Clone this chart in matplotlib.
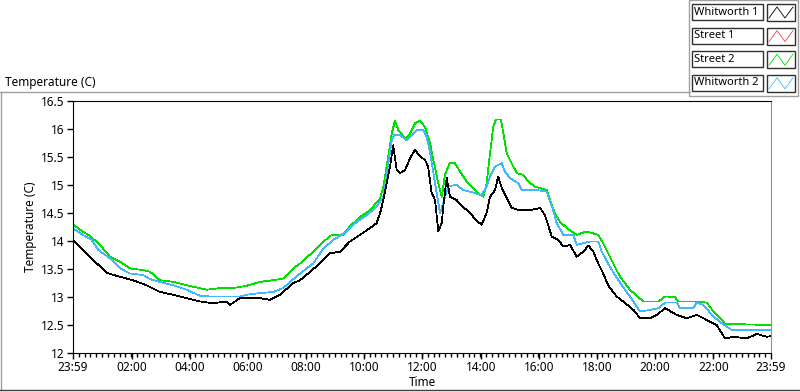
import numpy as np
import matplotlib
matplotlib.use('Agg')
from matplotlib import pyplot as plt
from matplotlib.patches import Rectangle

plt.rcParams['font.family'] = ['Noto Sans', 'DejaVu Sans']

# time is in hours after 23:59 (start of the log)
w1_hours = [0, 0.24, 0.70, 1.16, 1.62, 2.06, 2.53, 2.99, 3.45, 3.91, 4.37, 4.81, 5.28, 5.40, 5.74,
            6.43, 6.77, 7.12, 7.57, 7.81, 8.15, 8.49, 8.84, 9.18, 9.52, 9.87, 10.21, 10.44, 10.56,
            10.67, 10.79, 10.90, 11.01, 11.13, 11.24, 11.42, 11.59, 11.76, 11.93, 12.10, 12.21, 12.33,
            12.45, 12.56, 12.68, 12.73, 12.85, 12.96, 13.19, 13.41, 13.65, 13.88, 14.05, 14.22, 14.34,
            14.51, 14.62, 14.74, 14.91, 15.08, 15.37, 15.71, 16.06, 16.23, 16.46, 16.69, 16.86, 17.09,
            17.32, 17.55, 17.72, 17.89, 18.06, 18.23, 18.40, 18.69, 18.92, 19.27, 19.50, 19.84, 20.07,
            20.36, 20.76, 21.10, 21.45, 21.79, 22.13, 22.42, 22.70, 23.16, 23.51, 23.85, 24.0]
w1_temp = [14.02, 13.90, 13.66, 13.43, 13.36, 13.30, 13.21, 13.09, 13.04, 12.98, 12.92, 12.89, 12.92, 12.86, 12.98,
           12.98, 12.95, 13.04, 13.25, 13.30, 13.45, 13.60, 13.78, 13.81, 13.99, 14.11, 14.23, 14.32, 14.50,
           14.73, 15.04, 15.33, 15.71, 15.27, 15.21, 15.27, 15.48, 15.63, 15.51, 15.45, 15.33, 14.86,
           14.73, 14.17, 14.32, 14.61, 15.13, 14.79, 14.73, 14.61, 14.50, 14.36, 14.29, 14.50, 14.79,
           14.91, 15.15, 14.95, 14.77, 14.59, 14.55, 14.55, 14.59, 14.46, 14.08, 14.02, 13.90, 13.93,
           13.72, 13.81, 13.92, 13.81, 13.60, 13.42, 13.21, 13.01, 12.92, 12.77, 12.62, 12.62, 12.68,
           12.80, 12.68, 12.62, 12.68, 12.59, 12.50, 12.26, 12.29, 12.26, 12.34, 12.29, 12.30]

s1_hours = []
s1_temp = []

s2_hours = [0, 0.24, 0.58, 0.93, 1.27, 1.62, 1.96, 2.42, 2.65, 2.99, 3.45, 3.91, 4.60, 5.05, 5.51,
            5.97, 6.43, 6.89, 7.23, 7.57, 7.81, 8.26, 8.61, 8.90, 9.29, 9.52, 9.87, 10.21, 10.56,
            10.67, 10.84, 10.96, 11.07, 11.19, 11.42, 11.59, 11.76, 11.93, 12.10, 12.28, 12.39, 12.56,
            12.68, 12.79, 12.96, 13.13, 13.31, 13.54, 13.76, 14.00, 14.11, 14.22, 14.34, 14.45, 14.54,
            14.71, 14.80, 14.91, 15.08, 15.26, 15.48, 15.66, 15.89, 16.29, 16.40, 16.57, 16.75, 16.98,
            17.32, 17.66, 18.06, 18.23, 18.46, 18.69, 18.81, 19.15, 19.61, 20.13, 20.36, 20.70, 20.81,
            21.33, 21.79, 22.02, 22.31, 22.42, 24.0]
s2_temp = [14.30, 14.20, 14.09, 13.93, 13.72, 13.63, 13.51, 13.48, 13.45, 13.30, 13.27, 13.21, 13.13, 13.16, 13.16,
           13.20, 13.27, 13.30, 13.33, 13.51, 13.60, 13.81, 13.99, 14.11, 14.11, 14.26, 14.43, 14.55, 14.76,
           14.97, 15.51, 15.92, 16.15, 15.98, 15.83, 15.92, 16.10, 16.15, 16.04, 15.74, 15.45, 15.03,
           14.79, 15.18, 15.40, 15.39, 15.24, 15.06, 14.94, 14.82, 14.79, 15.03, 15.57, 16.04, 16.17,
           16.17, 15.92, 15.57, 15.39, 15.21, 15.18, 15.06, 14.97, 14.91, 14.73, 14.49, 14.34, 14.23,
           14.11, 14.17, 14.11, 13.96, 13.72, 13.48, 13.36, 13.13, 12.92, 12.92, 13.01, 13.00, 12.92,
           12.92, 12.90, 12.74, 12.59, 12.52, 12.50]

w2_hours = [0, 0.24, 0.64, 0.87, 1.27, 1.62, 1.96, 2.42, 2.65, 2.99, 3.45, 3.91, 4.37, 4.71, 5.74,
            5.97, 6.43, 6.89, 7.23, 7.46, 7.81, 8.26, 8.61, 8.95, 9.41, 9.75, 10.10, 10.44, 10.67,
            10.81, 10.96, 11.04, 11.24, 11.47, 11.64, 11.82, 12.04, 12.16, 12.28, 12.45, 12.62, 12.76,
            12.90, 13.19, 13.42, 13.65, 14.05, 14.22, 14.34, 14.51, 14.74, 14.85, 15.03, 15.31, 15.43,
            15.94, 16.29, 16.51, 16.63, 16.86, 17.20, 17.32, 17.78, 18.06, 18.18, 18.46, 18.75, 18.98,
            19.15, 19.50, 19.84, 20.13, 20.36, 20.76, 20.87, 21.33, 21.45, 21.67, 22.02, 22.31, 22.65, 24.0]
w2_temp = [14.23, 14.14, 14.02, 13.84, 13.69, 13.51, 13.42, 13.39, 13.32, 13.27, 13.21, 13.13, 13.02, 13.01, 13.01,
           13.04, 13.07, 13.09, 13.16, 13.27, 13.42, 13.60, 13.87, 14.02, 14.17, 14.34, 14.46, 14.61, 14.79,
           15.27, 15.80, 15.89, 15.89, 15.80, 15.89, 15.98, 15.98, 15.86, 15.57, 15.03, 14.49, 14.73,
           14.98, 15.00, 14.91, 14.88, 14.82, 14.97, 15.15, 15.33, 15.39, 15.24, 15.12, 15.03, 14.91,
           14.91, 14.88, 14.55, 14.32, 14.11, 14.11, 13.93, 13.99, 13.99, 13.81, 13.54, 13.30, 13.13,
           13.01, 12.74, 12.77, 12.80, 12.90, 12.90, 12.80, 12.80, 12.90, 12.86, 12.65, 12.53, 12.41, 12.41]

names = ['Whitworth 1', 'Street 1', 'Street 2', 'Whitworth 2']
colors = ['#000000', '#ff4040', '#00e000', '#40b8ff']
x_tick_labels = ['23:59', '02:00', '04:00', '06:00', '08:00', '10:00', '12:00',
                 '14:00', '16:00', '18:00', '20:00', '22:00', '23:59']
x_ticks = [0] + [h + 1 / 60 for h in range(2, 23, 2)] + [24]
y_ticks = [12, 12.5, 13, 13.5, 14, 14.5, 15, 15.5, 16, 16.5]

W, H = 800, 392
fig = plt.figure(figsize=(W / 100, H / 100), dpi=100)
fig.patch.set_facecolor('white')

ax = fig.add_axes([73 / W, 1 - 353 / H, (771 - 73) / W, (353 - 101) / H])
series = [(w1_hours, w1_temp), (s1_hours, s1_temp), (s2_hours, s2_temp), (w2_hours, w2_temp)]
# draw whitworth 1 last so it sits on top like the original
for i in [1, 2, 3, 0]:
    hx, ty = series[i]
    if len(hx) > 0:
        ax.plot(hx, ty, color=colors[i], lw=0.55, antialiased=False)

ax.set_xlim(0, 24)
ax.set_ylim(12, 16.5)
ax.set_xticks(x_ticks)
ax.set_xticklabels(x_tick_labels)
ax.set_xticks(np.arange(0, 24.01, 0.2), minor=True)
ax.set_yticks(y_ticks)
ax.set_yticklabels(['%g' % v for v in y_ticks])
ax.tick_params(axis='both', which='major', direction='out', length=4, width=1, labelsize=8.5, pad=2)
ax.tick_params(axis='x', which='minor', direction='out', length=3, width=1)
for s in ['left', 'bottom', 'top']:
    ax.spines[s].set_color('black')
ax.spines['right'].set_color('#909090')
ax.set_xlabel('Time', fontsize=8.5, labelpad=1)
ax.set_ylabel('Temperature (C)', fontsize=8.5, labelpad=3)

# overlay in pixel coordinates for the panel frame and legend
ov = fig.add_axes([0, 0, 1, 1], zorder=5)
ov.set_xlim(0, W)
ov.set_ylim(H, 0)
ov.axis('off')
ov.patch.set_alpha(0)
ov.plot([0, 690], [92, 92], color='#a0a0a0', lw=1)
ov.plot([1, 1], [92, 390], color='#a0a0a0', lw=1)
ov.plot([0, W], [390, 390], color='#404040', lw=1)
ov.text(5, 82, 'Temperature (C)', fontsize=8.5, va='center', ha='left')

ov.add_patch(Rectangle((689, 0), 109, 96, fill=False, edgecolor='#a0a0a0', lw=1))
for i, name in enumerate(names):
    y0 = 4 + i * 23.6
    ov.add_patch(Rectangle((692, y0), 71, 16, facecolor='white', edgecolor='#303030', lw=1))
    ov.text(694, y0 + 8, name, fontsize=8, va='center', ha='left')
    ov.add_patch(Rectangle((767, y0), 28, 17, facecolor='white', edgecolor='#303030', lw=1))
    ov.plot([769, 777, 785, 793], [y0 + 14, y0 + 3, y0 + 14, y0 + 3], color=colors[i], lw=0.6)

fig.savefig('out.png', dpi=100)
